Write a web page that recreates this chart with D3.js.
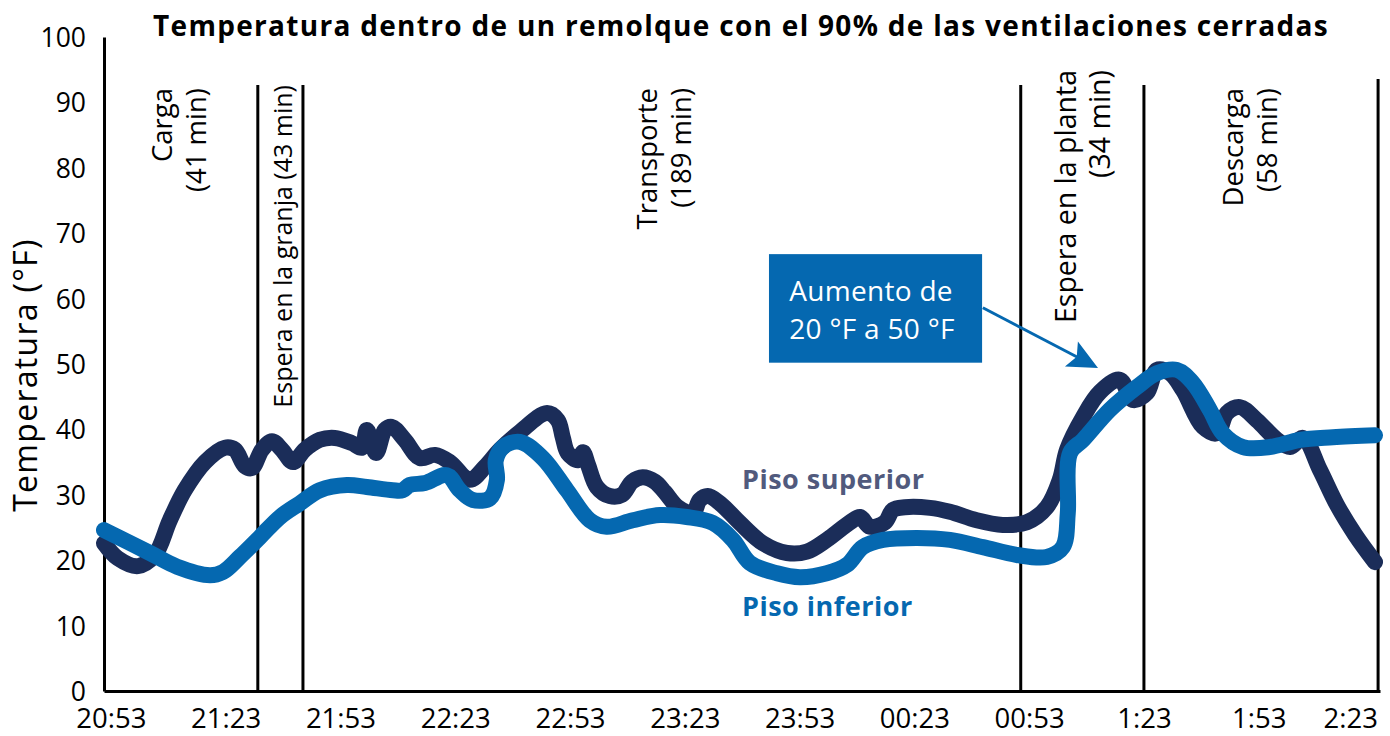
<!DOCTYPE html>
<html lang="es">
<head>
<meta charset="utf-8">
<script src="https://cdnjs.cloudflare.com/ajax/libs/d3/7.8.5/d3.min.js"></script>
<style>
    body { margin: 0; background: #fff; }
    svg { display: block; }
    .tick text { font-family: "Open Sans", sans-serif; fill: #000; }
</style>
</head>
<body>
<svg></svg>
<script>
    // minutos transcurridos desde las 20:53
    const supMin = [-1.8, 1.8, 7.1, 11.5, 15.4, 19.3, 24.6, 29.8, 32.4, 35.0, 36.9, 39.5, 42.1, 44.7, 47.6, 50.7,
        54.6, 58.5, 63.0, 65.6, 66.9, 69.3, 71.6, 73.4, 76.8, 80.8, 84.7, 88.6, 93.8, 97.8, 101.7, 106.9, 114.0,
        116.8, 118.1, 119.4, 122.1, 123.4, 124.7, 127.0, 130.4, 133.6, 136.2, 139.0, 142.2, 144.8, 148.2, 152.1,
        153.9, 156.0, 159.2, 164.4, 170.4, 176.7, 181.9, 187.1, 193.2, 195.8, 198.4, 202.3, 204.4, 207.5, 214.1,
        219.3, 226.3, 233.1, 239.4, 244.6, 248.0, 249.9, 254.1, 258.5, 263.7, 267.1, 270.8, 273.4, 276.8, 280.2,
        285.4, 289.1, 291.7, 295.1, 299.5, 304.8, 308.2, 311.6, 316.0, 320.5, 325.2, 330.4]
    const supTemp = [22.6, 20.3, 19.1, 20.8, 26.1, 30.7, 35.0, 37.2, 36.9, 34.4, 34.1, 36.9, 38.2, 36.9, 35.0, 36.9,
        38.4, 38.7, 37.9, 37.2, 39.9, 36.4, 39.9, 40.4, 38.4, 35.6, 36.1, 35.0, 32.3, 34.3, 36.9, 39.6, 42.5,
        41.4, 38.8, 36.4, 35.3, 36.5, 34.6, 31.2, 29.8, 30.0, 32.0, 32.7, 32.0, 30.4, 28.1, 27.2,
        29.2, 29.8, 28.7, 25.7, 22.6, 21.1, 21.3, 23.1, 25.8, 26.6, 25.1, 25.8, 27.7, 28.1, 28.0,
        27.4, 26.1, 25.4, 25.8, 28.1, 32.3, 36.9, 41.9, 45.7, 47.6, 44.5, 45.6, 49.1, 48.6, 46.0,
        40.4, 39.4, 42.5, 43.4, 41.4, 38.4, 37.3, 38.7, 33.8, 28.4, 23.9, 19.7]

    const infMin = [-1.8, 10.2, 17.3, 25.9, 29.3, 33.7, 38.9, 44.2, 49.4, 54.6, 61.7, 66.9, 73.7, 76.3, 78.1, 82.1,
        87.8, 91.2, 94.6, 99.1, 100.9, 100.6, 102.5, 106.9, 112.9, 119.2, 125.2, 129.6, 136.4, 143.5, 150.5,
        157.3, 162.6, 167.0, 174.1, 180.1, 187.1, 192.4, 196.5, 201.8, 210.7, 219.3, 227.9, 236.8, 244.6,
        248.8, 250.1, 250.7, 254.1, 261.1, 268.2, 273.4, 278.6, 282.8, 287.2, 290.6, 295.9, 302.9, 310.8,
        319.4, 330.4]
    const infTemp = [24.6, 21.1, 19.0, 17.7, 18.2, 20.5, 23.5, 26.6, 28.7, 30.7, 31.5, 31.2, 30.7, 30.7, 31.5, 31.8,
        33.0, 30.7, 29.2, 29.5, 32.3, 35.3, 37.3, 38.1, 35.6, 30.7, 26.1, 25.1, 26.1, 26.9, 26.6,
        25.7, 23.1, 19.6, 18.0, 17.4, 18.0, 19.3, 22.0, 23.1, 23.4, 23.1, 22.0, 20.8, 20.5,
        22.0, 27.2, 36.4, 38.4, 43.0, 46.5, 48.6, 49.1, 47.1, 43.0, 39.4, 37.3, 37.3, 38.4,
        38.8, 39.1]

    const tickMin = [0, 30, 60, 90, 120, 150, 180, 210, 240, 270, 300, 330]
    const tickLabels = ['20:53', '21:23', '21:53', '22:23', '22:53', '23:23', '23:53', '00:23', '00:53', '1:23', '1:53', '2:23']
    const yTicks = [0, 10, 20, 30, 40, 50, 60, 70, 80, 90, 100]

    // limites de las etapas (minutos)
    const phaseMin = [38.4, 50.2, 237.8, 270, 331.2]
    const phaseLines = [['Carga', '(41 min)'], ['Espera en la granja (43 min)'], ['Transporte', '(189 min)'],
        ['Espera en la planta', '(34 min)'], ['Descarga', '(58 min)']]
    const phaseLabelMin = [15.9, 47.3, 142.7, 252.2, 295.9]

    const w = 1390, h = 736
    const mLeft = 104, mRight = 1380, mTop = 37, mBottom = 691

    const x = d3.scaleLinear().domain([-1.8, 331.7]).range([mLeft, mRight])
    const y = d3.scaleLinear().domain([0, 100]).range([mBottom, mTop])

    const svg = d3.select('svg').attr('width', w).attr('height', h)

    // titulo
    svg.append('text')
        .attr('x', 741).attr('y', 36)
        .attr('text-anchor', 'middle')
        .attr('font-family', '"Open Sans", sans-serif')
        .attr('font-weight', 700)
        .attr('font-size', 28)
        .attr('letter-spacing', 1.3)
        .text('Temperatura dentro de un remolque con el 90% de las ventilaciones cerradas')

    svg.append('text')
        .attr('transform', 'translate(37,375) rotate(-90)')
        .attr('text-anchor', 'middle')
        .attr('font-family', '"Open Sans", sans-serif')
        .attr('font-size', 32)
        .attr('letter-spacing', 1.3)
        .text('Temperatura (°F)')

    // lineas de etapas
    svg.selectAll('.phase')
        .data(phaseMin)
        .enter()
        .append('line')
        .attr('class', 'phase')
        .attr('x1', d => x(d)).attr('x2', d => x(d))
        .attr('y1', (d, i) => i == phaseMin.length - 1 ? 79 : 85)
        .attr('y2', mBottom)
        .attr('stroke', '#000')
        .attr('stroke-width', 3)

    const labelTop = [88, 85, 88, 70, 88]
    const labelSize = [27.5, 25, 27.5, 28.5, 27.5]
    phaseLines.forEach((lines, i) => {
        const t = svg.append('text')
            .attr('transform', 'translate(' + x(phaseLabelMin[i]) + ',' + labelTop[i] + ') rotate(-90)')
            .attr('text-anchor', 'end')
            .attr('font-family', '"Open Sans", sans-serif')
            .attr('font-size', labelSize[i])
        lines.forEach((s, j) => {
            t.append('tspan').attr('x', 0).attr('y', j * 34).text(s)
        })
    })

    // ejes
    const yAxis = svg.append('g')
        .attr('transform', 'translate(' + mLeft + ',0)')
        .call(d3.axisLeft(y).tickValues(yTicks).tickSize(0).tickPadding(18))
    yAxis.selectAll('text').attr('font-size', 26.5).attr('dy', '0.36em')
    yAxis.select('.domain').attr('stroke', '#000').attr('stroke-width', 3)

    const xAxis = svg.append('g')
        .attr('transform', 'translate(0,' + mBottom + ')')
        .call(d3.axisBottom(x).tickValues(tickMin).tickSize(0).tickPadding(17)
            .tickFormat((d, i) => tickLabels[i]))
    xAxis.selectAll('text').attr('font-size', 27.5)
    xAxis.select('.tick:last-of-type text').attr('text-anchor', 'end').attr('x', 4)
    xAxis.select('.domain').attr('stroke', '#000').attr('stroke-width', 3)

    // series
    const line = d3.line()
        .x(d => x(d[0]))
        .y(d => y(d[1]))
        .curve(d3.curveCatmullRom.alpha(0.5))

    const sup = supMin.map((m, i) => [m, supTemp[i]])
    const inf = infMin.map((m, i) => [m, infTemp[i]])

    svg.append('path')
        .datum(sup)
        .attr('d', line)
        .attr('fill', 'none')
        .attr('stroke', '#1b2d59')
        .attr('stroke-width', 16)
        .attr('stroke-linecap', 'round')
        .attr('stroke-linejoin', 'round')

    svg.append('path')
        .datum(inf)
        .attr('d', line)
        .attr('fill', 'none')
        .attr('stroke', '#0568b0')
        .attr('stroke-width', 16)
        .attr('stroke-linecap', 'round')
        .attr('stroke-linejoin', 'round')

    // leyenda sobre las curvas
    svg.append('text')
        .attr('x', 742).attr('y', 489)
        .attr('font-family', '"Open Sans", sans-serif')
        .attr('font-weight', 700)
        .attr('font-size', 27)
        .attr('letter-spacing', 0.5)
        .attr('fill', '#515a7d')
        .text('Piso superior')
    svg.append('text')
        .attr('x', 742).attr('y', 616)
        .attr('font-family', '"Open Sans", sans-serif')
        .attr('font-weight', 700)
        .attr('font-size', 27)
        .attr('letter-spacing', 0.5)
        .attr('fill', '#0568b0')
        .text('Piso inferior')

    // anotacion
    svg.append('rect')
        .attr('x', x(172)).attr('y', y(66.8))
        .attr('width', x(227.7) - x(172))
        .attr('height', y(50.2) - y(66.8))
        .attr('fill', '#0568b0')

    const note = svg.append('text')
        .attr('font-family', '"Open Sans", sans-serif')
        .attr('font-size', 28)
        .attr('letter-spacing', 0.3)
        .attr('fill', '#fff')
    note.append('tspan').attr('x', x(177.3)).attr('y', 301).text('Aumento de')
    note.append('tspan').attr('x', x(177.3)).attr('y', 339).text('20 °F a 50 °F')

    const x0 = x(227.9), y0 = y(58.6), x1 = x(258), y1 = y(49.4)
    const ang = Math.atan2(y1 - y0, x1 - x0)
    const hl = 30, hw = 14
    const bx = x1 - hl * Math.cos(ang), by = y1 - hl * Math.sin(ang)
    svg.append('line')
        .attr('x1', x0).attr('y1', y0).attr('x2', bx + 8 * Math.cos(ang)).attr('y2', by + 8 * Math.sin(ang))
        .attr('stroke', '#0568b0').attr('stroke-width', 3)
    svg.append('path')
        .attr('d', 'M' + x1 + ',' + y1 +
            'L' + (bx - hw * Math.sin(ang)) + ',' + (by + hw * Math.cos(ang)) +
            'L' + (bx + 6 * Math.cos(ang)) + ',' + (by + 6 * Math.sin(ang)) +
            'L' + (bx + hw * Math.sin(ang)) + ',' + (by - hw * Math.cos(ang)) + 'Z')
        .attr('fill', '#0568b0')
</script>
</body>
</html>
